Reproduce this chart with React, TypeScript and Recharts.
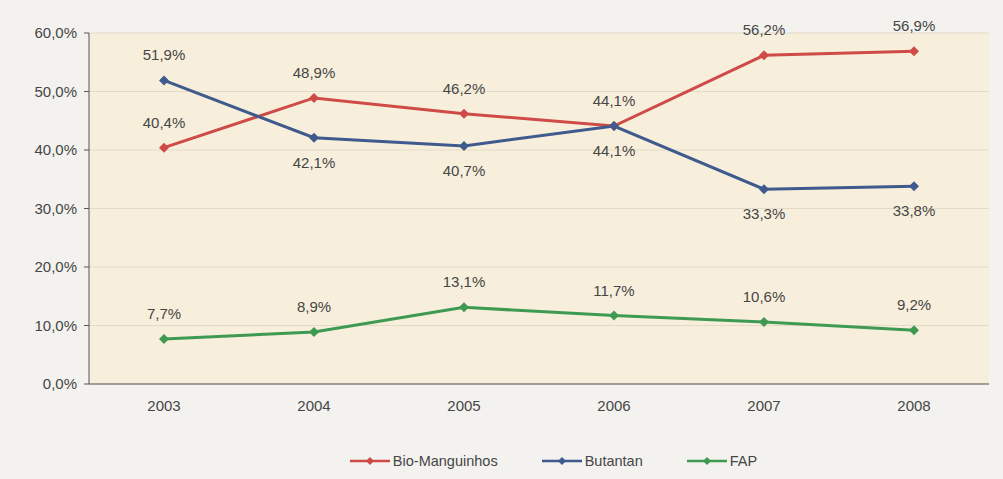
import { LineChart, Line, XAxis, YAxis, CartesianGrid, Legend, LabelList } from 'recharts'

const years = ['2003', '2004', '2005', '2006', '2007', '2008']
const bioManguinhos = [40.4, 48.9, 46.2, 44.1, 56.2, 56.9]
const butantan = [51.9, 42.1, 40.7, 44.1, 33.3, 33.8]
const fap = [7.7, 8.9, 13.1, 11.7, 10.6, 9.2]
const yTicks = [0, 10, 20, 30, 40, 50, 60]

const data = years.map((year, i) => ({
  year,
  bio: bioManguinhos[i],
  butantan: butantan[i],
  fap: fap[i],
}))

const series = [
  { key: 'bio', name: 'Bio-Manguinhos', color: '#cf4b47' },
  { key: 'butantan', name: 'Butantan', color: '#3f5a8c' },
  { key: 'fap', name: 'FAP', color: '#3e9a52' },
]

const font = '"Liberation Sans", Arial, sans-serif'
const textColor = '#464646'

const pct = (v: number) => v.toFixed(1).replace('.', ',') + '%'

function Diamond(props: any) {
  const { cx, cy, fill } = props
  if (cx == null || cy == null) return null
  const r = 5
  return <path d={`M${cx},${cy - r}L${cx + r},${cy}L${cx},${cy + r}L${cx - r},${cy}Z`} fill={fill} />
}

function makeLabel(below: (i: number) => boolean) {
  return (props: any) => {
    const { x, y, value, index } = props
    const dy = below(index) ? 30 : -20
    return (
      <text
        x={x}
        y={y + dy}
        textAnchor="middle"
        fontFamily={font}
        fontSize={15}
        fill={textColor}
      >
        {pct(value)}
      </text>
    )
  }
}

function LegendContent() {
  return (
    <div style={{ display: 'flex', justifyContent: 'center', gap: 44, fontFamily: font, fontSize: 14.5, color: textColor, paddingLeft: 118 }}>
      {series.map((s) => (
        <span key={s.key} style={{ display: 'flex', alignItems: 'center', gap: 3 }}>
          <svg width={40} height={10}>
            <line x1={0} y1={5} x2={40} y2={5} stroke={s.color} strokeWidth={2.5} />
            <path d="M20,1L24,5L20,9L16,5Z" fill={s.color} />
          </svg>
          {s.name}
        </span>
      ))}
    </div>
  )
}

export default function App() {
  return (
    <div style={{ position: 'absolute', left: 0, top: 0, width: 1003, height: 479, background: '#f3f2ef' }}>
      <LineChart
        width={1003}
        height={479}
        data={data}
        margin={{ top: 33, right: 14, left: 0, bottom: 10 }}
      >
        <CartesianGrid vertical={false} stroke="#e3dbc8" fill="#f7efdc" />
        <XAxis
          dataKey="year"
          height={69}
          padding={{ left: 75, right: 75 }}
          tick={{ fontSize: 15, fill: textColor, fontFamily: font, dy: 8 }}
          axisLine={{ stroke: '#555' }}
          tickLine={false}
        />
        <YAxis
          width={89}
          domain={[0, 60]}
          ticks={yTicks}
          tickFormatter={pct}
          tick={{ fontSize: 15, fill: textColor, fontFamily: font, dx: -5 }}
          axisLine={{ stroke: '#555' }}
          tickSize={5}
          tickLine={{ stroke: '#555' }}
        />
        <YAxis
          yAxisId="frame"
          orientation="right"
          width={0}
          domain={[0, 60]}
          tick={false}
          tickLine={false}
          axisLine={{ stroke: '#9a968e' }}
        />
        <Legend verticalAlign="bottom" content={<LegendContent />} />
        {series.map((s) => (
          <Line
            key={s.key}
            dataKey={s.key}
            name={s.name}
            stroke={s.color}
            strokeWidth={3}
            dot={<Diamond fill={s.color} />}
            activeDot={false}
            isAnimationActive={false}
          >
            <LabelList
              dataKey={s.key}
              content={makeLabel((i) => s.key === 'butantan' && i > 0)}
            />
          </Line>
        ))}
      </LineChart>
    </div>
  )
}
